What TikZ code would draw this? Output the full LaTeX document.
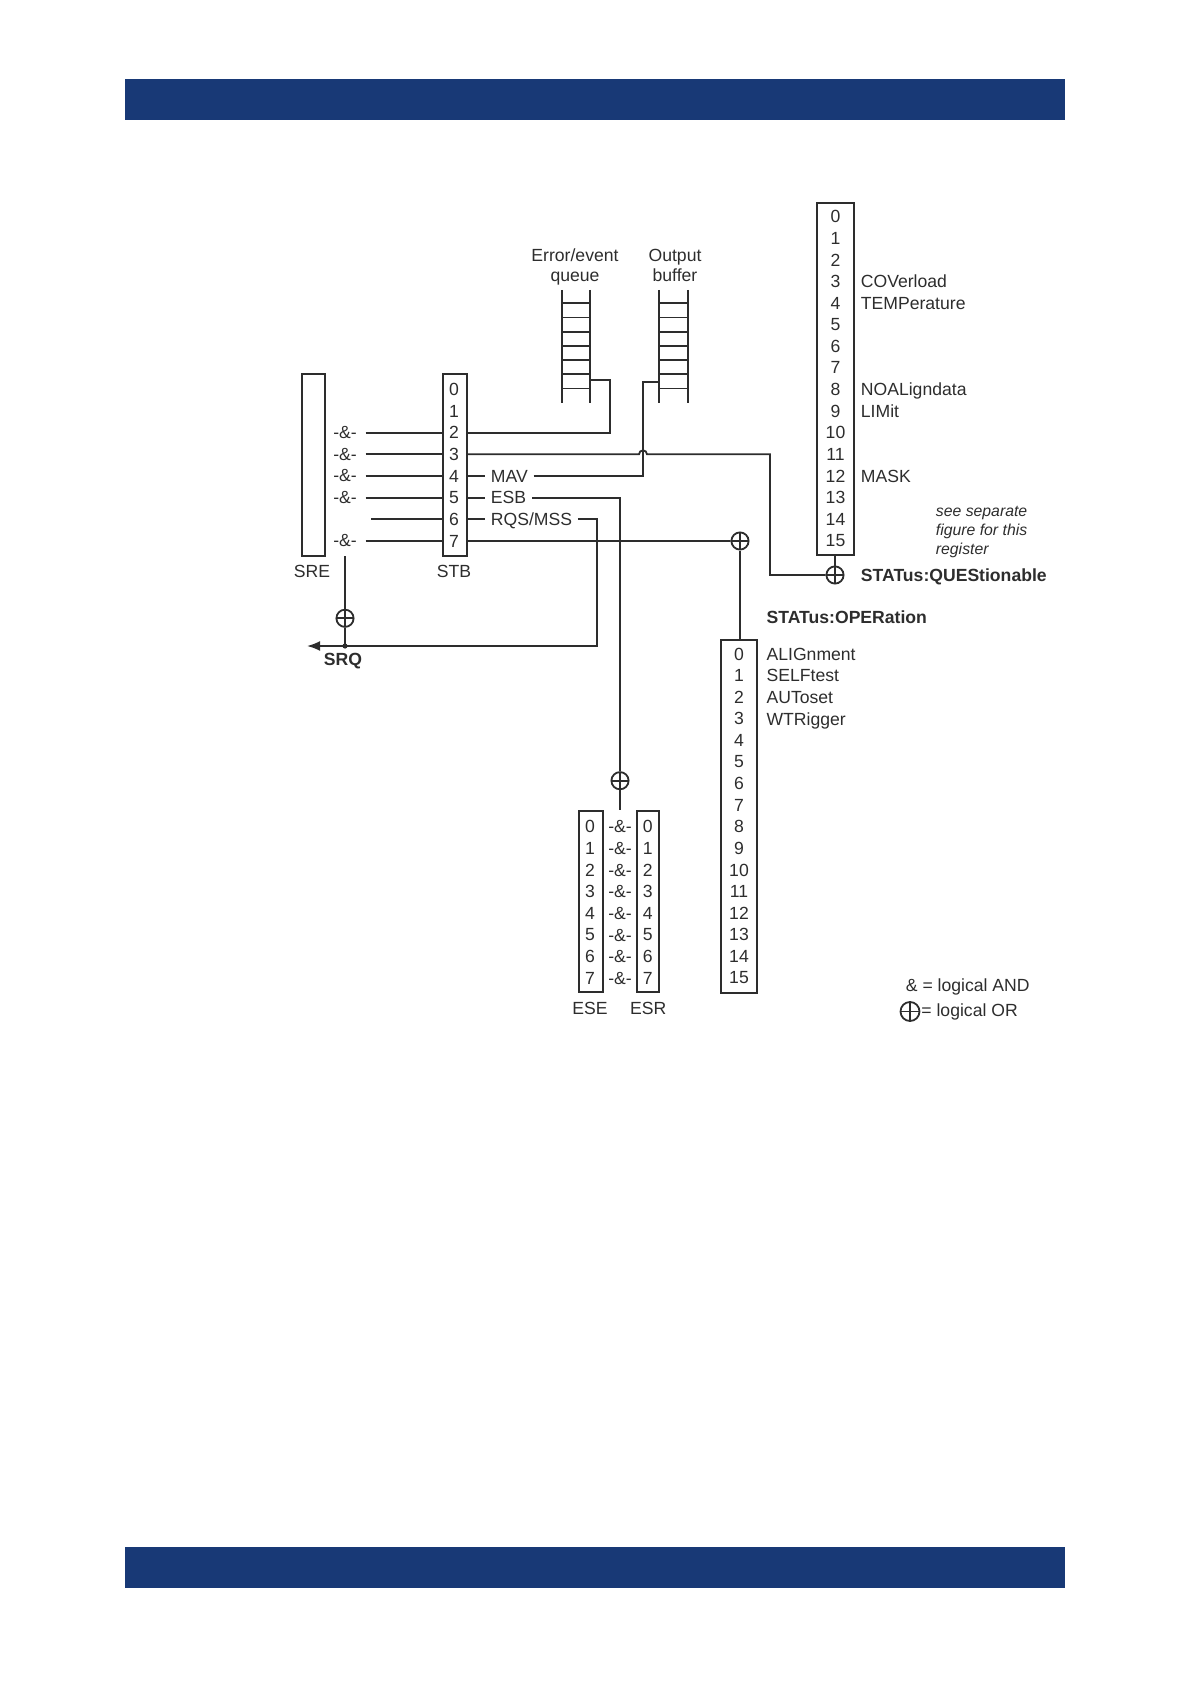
\documentclass[tikz,border=0pt]{standalone}
\usepackage{fontspec}
\setmainfont{Liberation Sans}
\usetikzlibrary{arrows.meta}
\definecolor{ink}{RGB}{45,45,45}
\definecolor{barblue}{RGB}{24,57,118}
\begin{document}
\begin{tikzpicture}[x=0.5pt,y=-0.5pt,line width=0.9pt,draw=ink,
  txt/.style={font=\fontsize{8.8}{10}\selectfont,inner sep=0pt,text=ink},
  btxt/.style={font=\fontsize{8.8}{10}\selectfont\bfseries,inner sep=0pt,text=ink},
  itxt/.style={font=\fontsize{7.9}{9}\selectfont\itshape,inner sep=0pt,text=ink},
  andl/.style={txt,inner xsep=4pt},
  lbl/.style={txt,anchor=base west,inner xsep=2.5pt},
  reg/.style={draw=ink,rectangle,inner sep=0pt},
  orgate/.style={circle,draw=ink,line width=0.9pt,minimum size=8.6pt,inner sep=0pt,
    path picture={\draw[ink,line width=0.9pt]
      (path picture bounding box.north) -- (path picture bounding box.south)
      (path picture bounding box.west) -- (path picture bounding box.east);}}]
\useasboundingbox (0,0) rectangle (1191,1684);
% page bars
\fill[barblue] (125,79) rectangle (1065,120);
\fill[barblue] (125,1547.3) rectangle (1065,1588.3);

% ---------- SRE and STB ----------
\node[reg,minimum width=11.7pt,minimum height=90.9pt] (sre) at (313.4,464.9) {};
\node[txt] (srel) at (312,571.7) {SRE};
\node[reg,minimum width=11.7pt,minimum height=90.9pt] (stb) at (455,464.9) {};
\node[txt] (stbl) at (454,571.7) {STB};
\foreach \i in {0,...,7} \node[txt] (s\i) at (454,{389.3+21.67*\i}) {\i};
\foreach \i in {2,3,4,5,7} {
  \node[andl] (a\i) at (345,{389.3+21.67*\i}) {-\&-};
  \draw (a\i.east) -- (s\i -| stb.west);
}
\coordinate (r6) at (371,{389.3+21.67*6});
\draw (r6) -- (s6 -| stb.west);

% ---------- queues ----------
\draw (562.3,290) -- (562.3,402.7) (590,290) -- (590,402.7);
\draw (659.3,290) -- (659.3,402.7) (687.7,290) -- (687.7,402.7);
\foreach \y in {303.3,317.5,331.7,345.9,360.1,374.3,388.5} {
  \draw (562.3,\y) -- (590,\y);
  \draw (659.3,\y) -- (687.7,\y);
}
\node[txt,anchor=base] (eql1) at (575,261.3) {Error/event};
\node[txt,anchor=base] (eql2) at (575,281.2) {queue};
\node[txt,anchor=base] (obl1) at (675,261.3) {Output};
\node[txt,anchor=base] (obl2) at (675,281.2) {buffer};
\coordinate (eqout) at (590,380);
\coordinate (obin) at (659.3,381.7);
\coordinate (c610) at (610,0);
\coordinate (c643) at (643,0);
\coordinate (c770) at (770,0);
\coordinate (c597) at (597,0);
\coordinate (c620) at (620,0);

% ---------- labels on STB outputs ----------
\node[lbl] (mav) at (485,482.3) {MAV};
\node[lbl] (esb) at (485,503.9) {ESB};
\node[lbl] (rqs) at (485,525.6) {RQS/MSS};

% ---------- QUEStionable ----------
\node[reg,minimum width=18.7pt,minimum height=176.2pt] (ques) at (835.4,378.9) {};
\foreach \i in {0,...,15} \node[txt] (q\i) at (835.5,{216.7+21.6*\i}) {\i};
\foreach \i/\t in {3/COVerload,4/TEMPerature,8/NOALigndata,9/LIMit,12/MASK}
  \node[txt,anchor=base west] (ql\i) at (860,{216.7+21.6*\i+6.3}) {\t};
\node[orgate] (qor) at (835,575) {};
\draw (ques.south -| qor) -- (qor.north);
\node[btxt,anchor=base west] (quesl) at (860,581.3) {STATus:QUEStionable};
\node[itxt,anchor=base west] (n1) at (935,516.8) {see separate};
\node[itxt,anchor=base west] (n2) at (935,535.8) {figure for this};
\node[itxt,anchor=base west] (n3) at (935,554.1) {register};

% ---------- OPERation ----------
\node[reg,minimum width=18.3pt,minimum height=176.4pt] (oper) at (739,816.4) {};
\foreach \i in {0,...,15} \node[txt] (o\i) at (739,{654+21.6*\i}) {\i};
\foreach \i/\t in {0/ALIGnment,1/SELFtest,2/AUToset,3/WTRigger}
  \node[txt,anchor=base west] (ol\i) at (765.7,{654+21.6*\i+6.3}) {\t};
\node[btxt,anchor=base west] (operl) at (765.7,623) {STATus:OPERation};
\node[orgate] (oor) at (740,541) {};
\draw (oor.south) -- (oor.south |- oper.north);

% ---------- ESE / ESR ----------
\node[reg,minimum width=11.7pt,minimum height=90.8pt] (ese) at (591,901.5) {};
\node[reg,minimum width=11.3pt,minimum height=90.8pt] (esr) at (648,901.5) {};
\foreach \i in {0,...,7} {
  \node[txt] (e\i) at (590,{826.7+21.66*\i}) {\i};
  \node[txt] (r\i) at (647.7,{826.7+21.66*\i}) {\i};
  \node[txt] (ea\i) at (620,{826.7+21.66*\i}) {-\&-};
}
\node[txt] (esel) at (590,1008.3) {ESE};
\node[txt] (esrl) at (648.3,1008.3) {ESR};
\node[orgate] (eor) at (620,780.7) {};
\draw (eor.south) -- (eor.south |- esr.north);

% ---------- SRQ ----------
\coordinate (sretop) at (345,556);
\node[orgate] (sor) at (345,618.3) {};
\coordinate (srqdot) at (345,646);
\coordinate (srqtip) at (307,646);
\draw (sretop) -- (sor.north);
\draw (sor.south) -- (srqdot);
\fill[ink] (srqdot) circle (2.6);
\node[btxt] (srql) at (343,661) {SRQ};

% ---------- connectors ----------
% bit 2 <- error queue
\draw (s2 -| stb.east) -- (s2 -| c610) -- (c610 |- eqout) -- (eqout);
% bit 3 -> QUEStionable (hop over output-buffer line)
\draw (s3 -| stb.east) -- ([xshift=-2pt]s3 -| c643)
  arc[start angle=180,end angle=360,radius=4] -- (s3 -| c770) -- (c770 |- qor) -- (qor.west);
% bit 4 MAV <- output buffer
\draw (s4 -| stb.east) -- (s4 -| mav.west);
\draw (s4 -| mav.east) -- (s4 -| c643) -- (c643 |- obin) -- (obin);
% bit 5 ESB <- ESR
\draw (s5 -| stb.east) -- (s5 -| esb.west);
\draw (s5 -| esb.east) -- (s5 -| c620) -- (eor.north);
% bit 6 RQS/MSS -> SRQ
\draw (s6 -| stb.east) -- (s6 -| rqs.west);
\draw[-{Latex[length=6.5pt,width=5pt]}] (s6 -| rqs.east) -- (s6 -| c597) -- (c597 |- srqtip) -- (srqtip);
% bit 7 <- OPERation
\draw (s7 -| stb.east) -- (oor.west);

% ---------- legend ----------
\node[txt,anchor=base west] (leg1) at (905,991.3) {\& = logical AND};
\node[orgate,minimum size=9.5pt] (lor) at (910,1011.5) {};
\node[txt,anchor=base west] (leg2) at (920.5,1016.3) {= logical OR};
\end{tikzpicture}
\end{document}
